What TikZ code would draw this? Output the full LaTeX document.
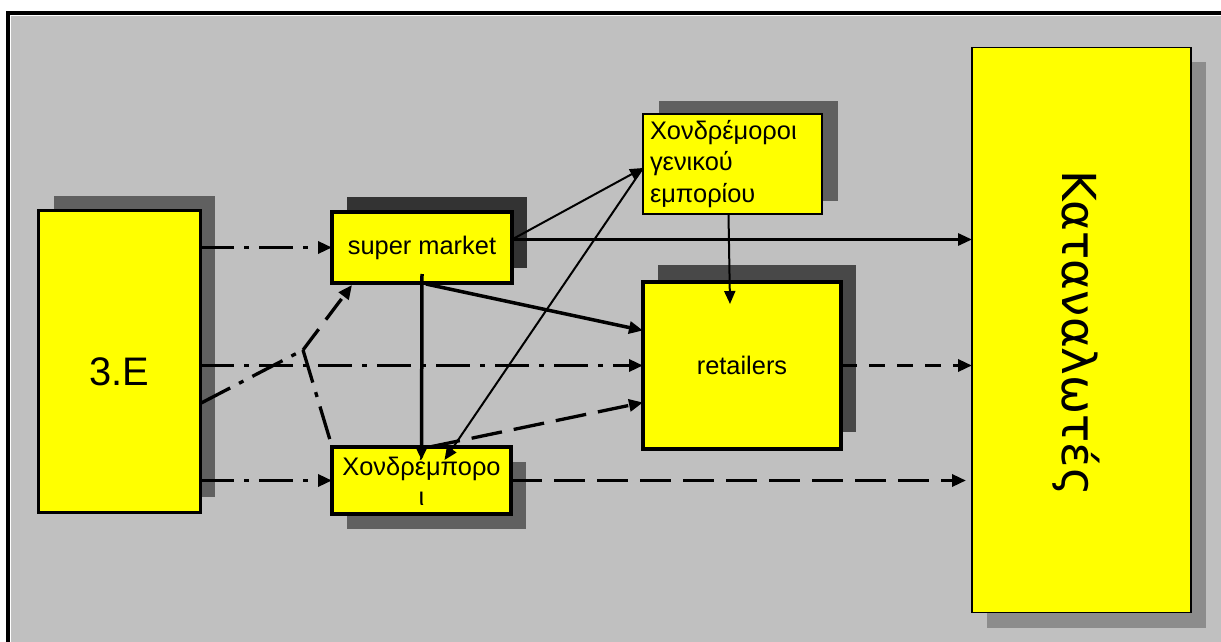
\documentclass[tikz,border=0pt]{standalone}
\usepackage{fontspec}
\setmainfont{Liberation Sans}
\newfontfamily\kfont{DejaVu Sans}
\usetikzlibrary{arrows.meta,shadows,calc}
\definecolor{bggray}{HTML}{C0C0C0}
\definecolor{boxyellow}{HTML}{FFFF00}
\definecolor{shthree}{HTML}{333333}
\definecolor{shfour}{HTML}{484848}
\definecolor{shsix}{HTML}{606060}
\definecolor{sheight}{HTML}{8C8C8C}
\tikzset{
  base/.style={draw=black, fill=boxyellow, outer sep=0pt, inner sep=2bp, anchor=north west,
    font=\fontsize{25.5}{31}\selectfont},
  arr/.style={-{Triangle[length=14bp,width=12bp]}},
  arrsmall/.style={-{Triangle[length=13bp,width=11bp]}},
  dashdotline/.style={line width=3.3bp, dash pattern=on 34bp off 10bp on 5bp off 10bp, arr},
  dashline/.style={line width=3.3bp, dash pattern=on 31bp off 12bp, arr},
  thickline/.style={line width=3.5bp, arr},
  medline/.style={line width=3bp, arr},
  thinline/.style={line width=2bp, arrsmall},
}
\begin{document}
\begin{tikzpicture}[x=1bp,y=-1bp]
\useasboundingbox (0,0) rectangle (1221,642);
\fill[white] (0,0) rectangle (1221,642);
\fill[bggray] (10,15) rectangle (1221,642);
\draw[line width=4bp] (8,642) -- (8,13) -- (1221,13);
\draw[white,line width=1bp] (10.5,642) -- (10.5,15.5) -- (1221,15.5);

% boxes
\node[base, line width=3bp, minimum width=161.5bp, minimum height=301bp,
  text height=47bp, text depth=0pt, font=\fontsize{40}{48}\selectfont,
  general shadow={fill=shsix, shadow xshift=15bp, shadow yshift=15bp}] (e) at (38.5,211) {3.E};

\node[base, line width=3.5bp, minimum width=180bp, minimum height=71bp,
  general shadow={fill=shthree, shadow xshift=15bp, shadow yshift=15bp}] (sm) at (332,212) {super market};

\node[base, line width=3.5bp, minimum width=179bp, minimum height=67bp, align=center,
  font=\fontsize{25.5}{30}\selectfont,
  general shadow={fill=shsix, shadow xshift=15bp, shadow yshift=-15bp}] (xo) at (332,447) {Χονδρέμπορο\\ι};

\node[base, line width=1.2bp, minimum width=179bp, minimum height=100bp, text width=165bp,
  inner xsep=7bp, align=left, font=\fontsize{25.5}{31.5}\selectfont,
  general shadow={fill=shsix, shadow xshift=16bp, shadow yshift=13bp}] (hg) at (643,114)
  {Χονδρέμοροι\\γενικού\\εμπορίου};

\node[base, line width=4bp, minimum width=198bp, minimum height=167bp,
  general shadow={fill=shfour, shadow xshift=15bp, shadow yshift=17bp}] (rt) at (643,282) {retailers};

\node[base, line width=1.5bp, minimum width=219bp, minimum height=565bp,
  general shadow={fill=sheight, shadow xshift=15bp, shadow yshift=-15bp},
  label={[font=\kfont\fontsize{47}{56}\selectfont, xshift=-5bp, yshift=-3bp, rotate=-90]center:Καταναλωτές}] (kt) at (972,47.5) {};

% helper coordinates
\coordinate (smE) at ($(sm.east)+(0,-8)$);
\coordinate (hgW) at ($(hg.west)+(0,4)$);
\coordinate (bend) at (303,350);

% connectors from 3.E
\draw[dashdotline] (e.east |- sm.west) -- (sm.west);
\draw[dashdotline] (e.east |- rt.west) -- (rt.west);
\draw[dashdotline] (e.east |- xo.west) -- (xo.west);
\draw[dashdotline, -] ($(e.south east)!0.36!(e.north east)$) -- (bend);
\draw[dashline, dash pattern=on 26bp off 12bp] (bend) -- ($(sm.south west)+(20,2)$);
\draw[dashdotline, -] (bend) -- ($(xo.north west)+(-2,-7)$);

% connectors from super market
\draw[thickline] ($(sm.south)+(0,-9)$) -- ($(xo.north)+(0,13)$);
\draw[thickline] ($(sm.south)+(4,1)$) -- ($(rt.west)+(0,-35)$);
\draw[thinline] (smE) -- (hgW);
\draw[medline] (smE) -- (kt.west |- smE);

% other connectors
\draw[thinline] (hgW) -- ($(xo.north)+(23,13)$);
\draw[thinline] ($(hg.south)+(-4,0)$) -- ($(rt.north west)+(87,22)$);
\draw[dashline] ($(xo.north)+(8,0)$) -- ($(rt.west)+(0,37)$);
\draw[dashline, dash pattern=on 16bp off 12bp] (rt.east) -- (kt.west |- rt.east);
\draw[dashline] (xo.east) -- ($(kt.west |- xo.east)+(-6,0)$);
\end{tikzpicture}
\end{document}
